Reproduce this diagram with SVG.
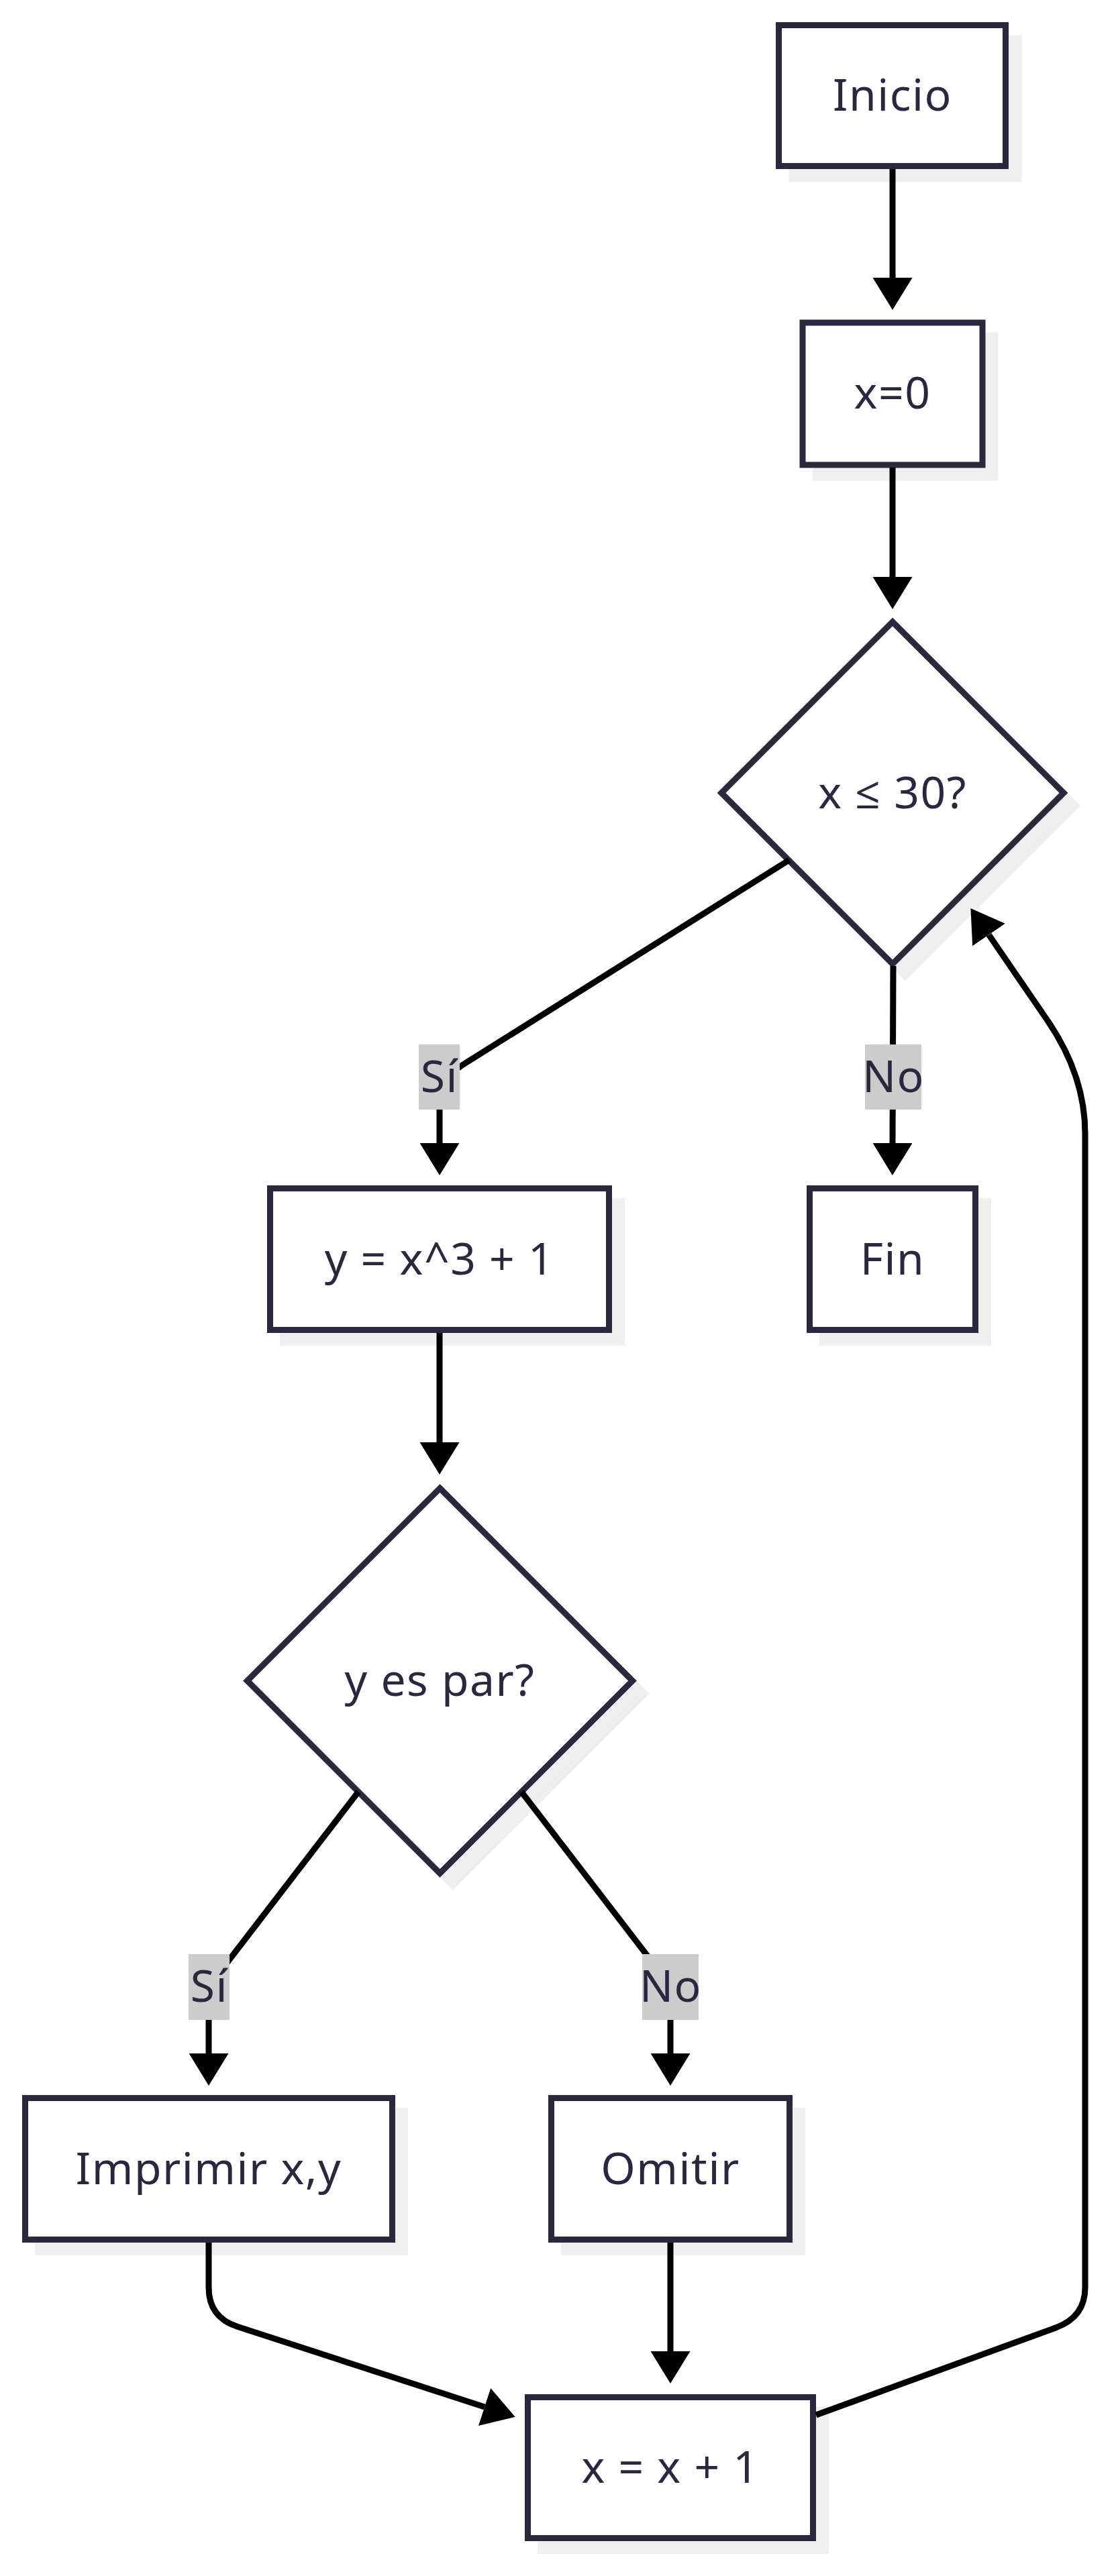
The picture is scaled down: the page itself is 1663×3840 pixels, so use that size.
<svg xmlns="http://www.w3.org/2000/svg" width="1663" height="3840" viewBox="0 0 1663 3840">
  <style>
    .shape { fill: #ffffff; stroke: #29283d; stroke-width: 9; }
    .shadow { fill: #efefef; stroke: #efefef; stroke-width: 9; }
    .label { font-family: "Noto Sans", "Open Sans", "DejaVu Sans", sans-serif; font-size: 66px; letter-spacing: 1.5px; fill: #29283f; text-anchor: middle; }
    .edge { fill: none; stroke: #000000; stroke-width: 9; }
    .edge-bg { fill: #cccccc; }
  </style>
  <defs>
    <marker id="arrow" viewBox="0 0 48 59" refX="0" refY="29.5" markerWidth="48" markerHeight="59" markerUnits="userSpaceOnUse" orient="auto">
      <path d="M0,0 L48,29.5 L0,59 z" fill="#000000"/>
    </marker>
  </defs>
  <rect width="1663" height="3840" fill="#ffffff"/>

  <!-- process and decision nodes -->
  <g id="inicio">
    <rect class="shadow" x="1180" y="57" width="338" height="210"/>
    <rect class="shape" x="1160.5" y="37.5" width="338" height="210"/>
    <text class="label" x="1330" y="165">Inicio</text>
  </g>
  <g id="x0">
    <rect class="shadow" x="1215" y="500" width="268" height="212"/>
    <rect class="shape" x="1196" y="481" width="268" height="212"/>
    <text class="label" x="1330" y="609">x=0</text>
  </g>
  <g id="cond-x">
    <polygon class="shadow" points="1349,946 1604,1201 1349,1456 1094,1201"/>
    <polygon class="shape" points="1330,927 1585,1182 1330,1437 1075,1182"/>
    <text class="label" x="1330" y="1205">x ≤ 30?</text>
  </g>
  <g id="calc-y">
    <rect class="shadow" x="421.5" y="1790.5" width="505" height="211"/>
    <rect class="shape" x="402.5" y="1771.5" width="505" height="211"/>
    <text class="label" x="655" y="1900">y = x^3 + 1</text>
  </g>
  <g id="fin">
    <rect class="shadow" x="1225.5" y="1790.5" width="247" height="211"/>
    <rect class="shape" x="1206.5" y="1771.5" width="247" height="211"/>
    <text class="label" x="1330" y="1900">Fin</text>
  </g>
  <g id="cond-y">
    <polygon class="shadow" points="674.5,2237.5 961.5,2524.5 674.5,2811.5 387.5,2524.5"/>
    <polygon class="shape" points="655.5,2218.5 942.5,2505.5 655.5,2792.5 368.5,2505.5"/>
    <text class="label" x="655.5" y="2528">y es par?</text>
  </g>
  <g id="imprimir">
    <rect class="shadow" x="56.5" y="3146.5" width="547" height="211"/>
    <rect class="shape" x="37.5" y="3127.5" width="547" height="211"/>
    <text class="label" x="311" y="3256">Imprimir x,y</text>
  </g>
  <g id="omitir">
    <rect class="shadow" x="840.5" y="3146.5" width="355" height="211"/>
    <rect class="shape" x="821.5" y="3127.5" width="355" height="211"/>
    <text class="label" x="999" y="3256">Omitir</text>
  </g>
  <g id="incremento">
    <rect class="shadow" x="805.5" y="3592.5" width="425" height="210"/>
    <rect class="shape" x="786.5" y="3573.5" width="425" height="210"/>
    <text class="label" x="999" y="3701">x = x + 1</text>
  </g>

  <!-- connectors -->
  <g id="connectors">
    <path class="edge" d="M1330,252 L1330,414" marker-end="url(#arrow)"/>
    <path class="edge" d="M1330,697 L1330,860" marker-end="url(#arrow)"/>
    <path class="edge" d="M1176,1282 L690,1587 Q655,1609 655,1650 L655,1704" marker-end="url(#arrow)"/>
    <path class="edge" d="M1331,1440 L1330,1704" marker-end="url(#arrow)"/>
    <path class="edge" d="M655,1987 L655,2150" marker-end="url(#arrow)"/>
    <path class="edge" d="M534,2671 L342,2921 Q311,2961 311,3000 L311,3061" marker-end="url(#arrow)"/>
    <path class="edge" d="M777,2671 L969,2921 Q999,2961 999,3000 L999,3061" marker-end="url(#arrow)"/>
    <path class="edge" d="M311,3343 L311,3410 Q311,3454 353,3468 L722,3588" marker-end="url(#arrow)"/>
    <path class="edge" d="M999,3343 L999,3505" marker-end="url(#arrow)"/>
    <path class="edge" d="M1216,3600 L1573,3470 Q1617,3454 1617,3410 L1617,1690 Q1617,1601 1558,1517 L1473.5,1393.5" marker-end="url(#arrow)"/>
  </g>

  <!-- connector labels -->
  <g id="edge-labels">
    <g id="label-si-1">
      <rect class="edge-bg" x="624" y="1557" width="61" height="97"/>
      <text class="label" x="655" y="1628">Sí</text>
    </g>
    <g id="label-no-1">
      <rect class="edge-bg" x="1289" y="1557" width="84" height="97"/>
      <text class="label" x="1331.5" y="1628">No</text>
    </g>
    <g id="label-si-2">
      <rect class="edge-bg" x="281" y="2913" width="61" height="98"/>
      <text class="label" x="312" y="2984">Sí</text>
    </g>
    <g id="label-no-2">
      <rect class="edge-bg" x="957" y="2913" width="84" height="98"/>
      <text class="label" x="999.5" y="2984">No</text>
    </g>
  </g>
</svg>
